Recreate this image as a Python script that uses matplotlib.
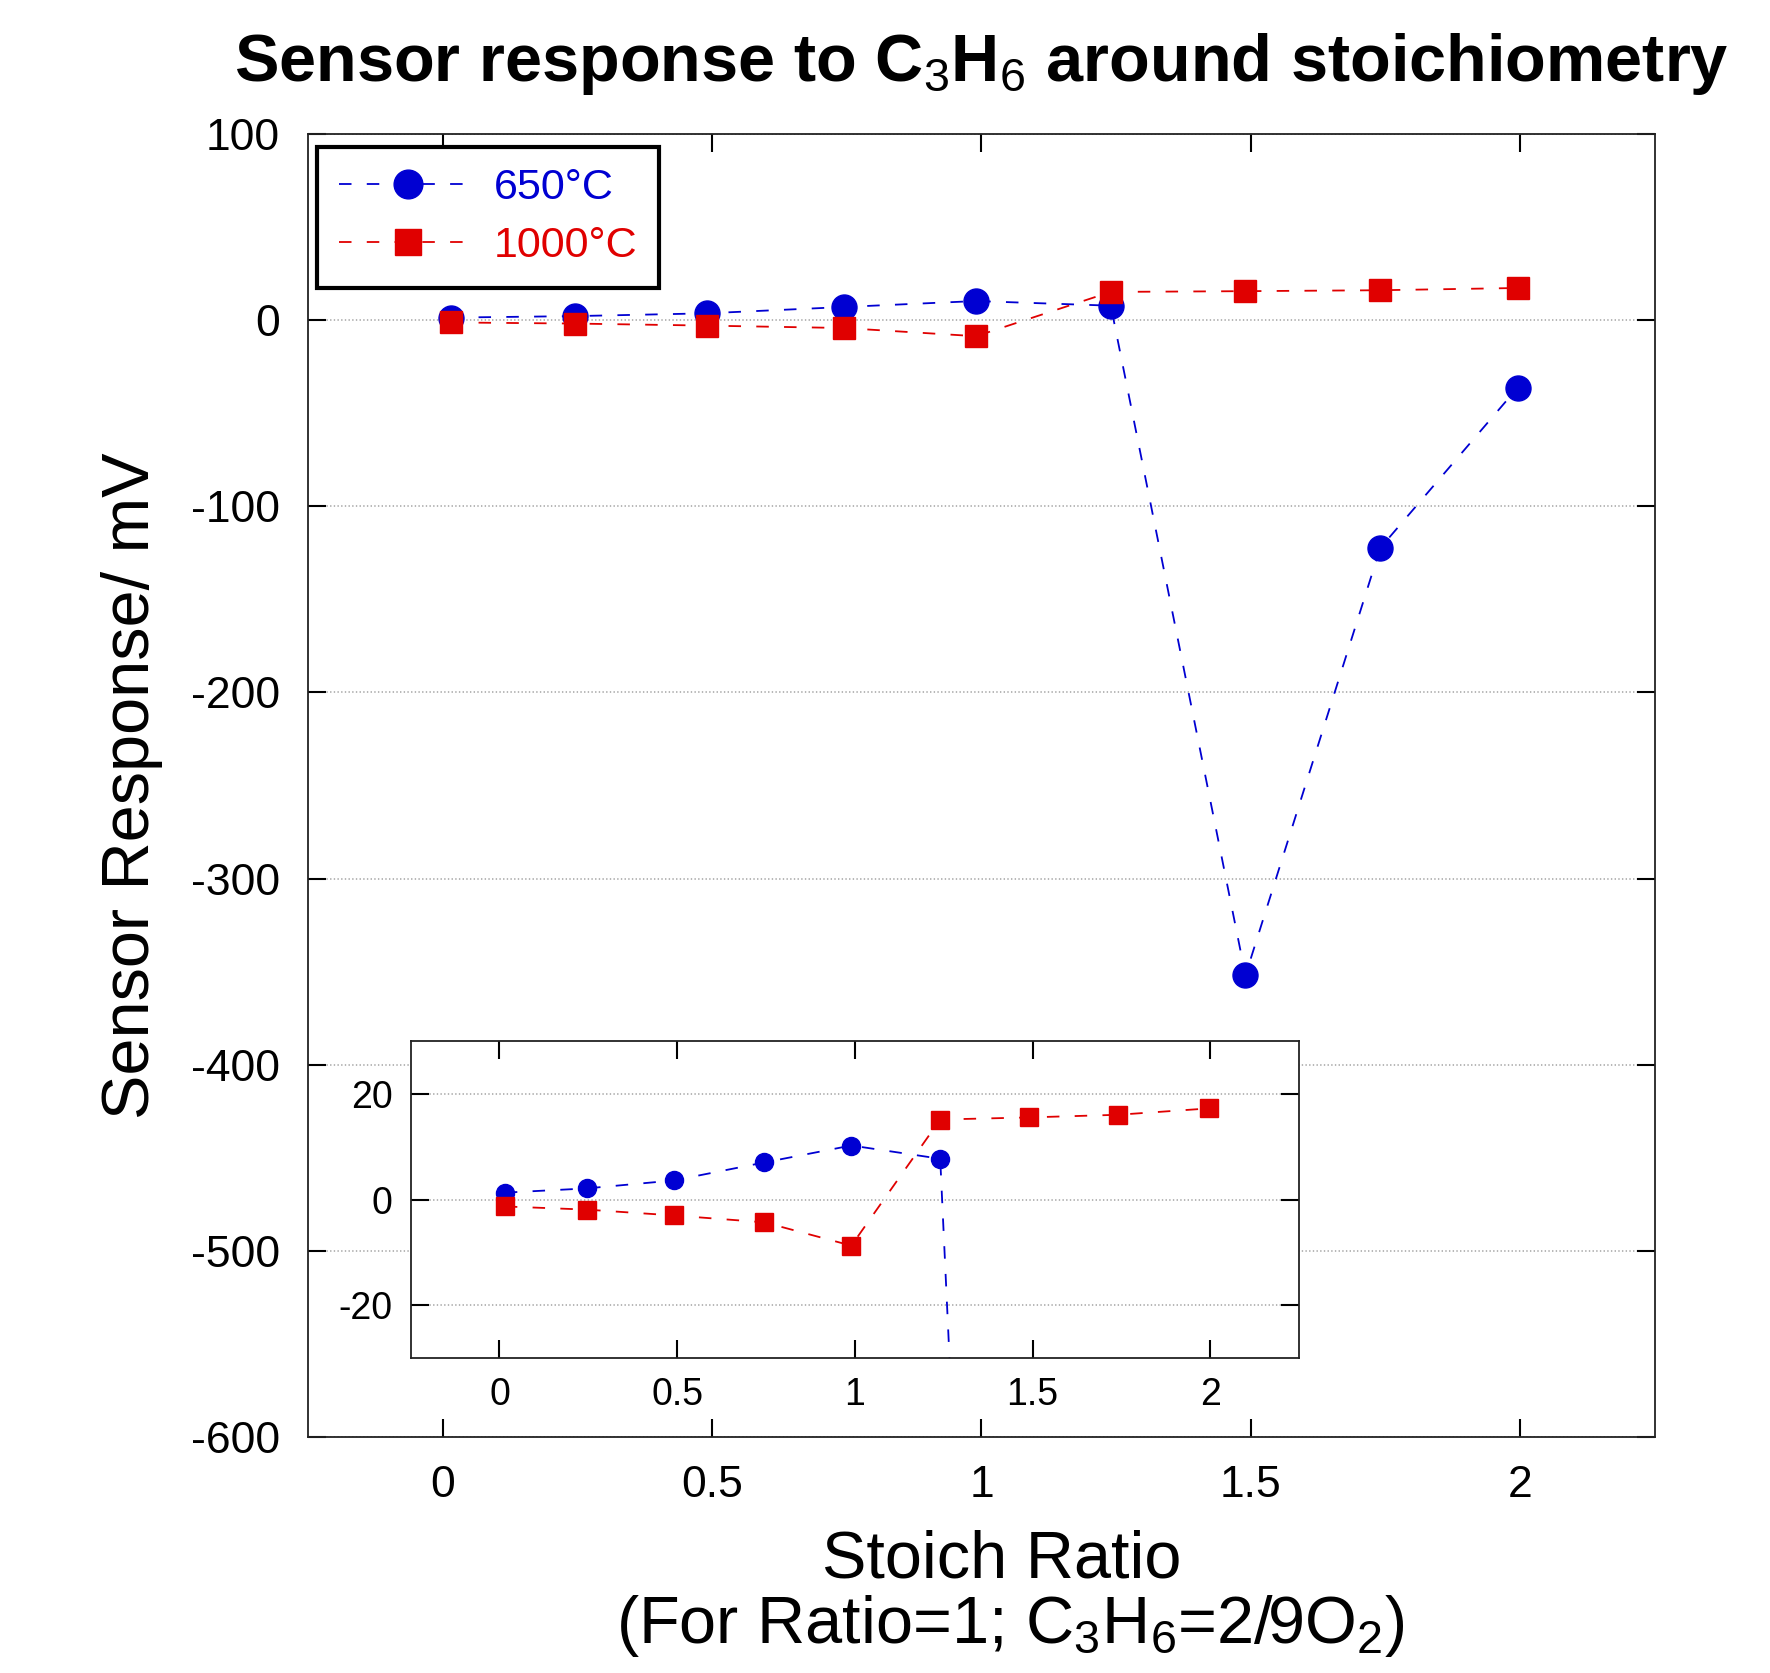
import numpy as np
import matplotlib
matplotlib.use('Agg')
import matplotlib.pyplot as plt

plt.rcParams['font.family'] = ['Liberation Sans', 'DejaVu Sans']
plt.rcParams['mathtext.fontset'] = 'custom'
plt.rcParams['mathtext.rm'] = 'Liberation Sans'
plt.rcParams['mathtext.it'] = 'Liberation Sans'
plt.rcParams['lines.scale_dashes'] = False

# data
ratio = [0.015, 0.245, 0.49, 0.745, 0.99, 1.24, 1.49, 1.74, 1.995]
resp_650 = [1.3, 2.1, 3.6, 7.0, 10.2, 7.7, -352, -122.5, -36.4]
resp_1000 = [-1.3, -1.9, -3.0, -4.3, -8.7, 15.1, 15.5, 16.0, 17.2]
labels = ['650°C', '1000°C']
blue = '#0000d2'
red = '#e00000'

main_xticks = [0, 0.5, 1, 1.5, 2]
main_yticks = [100, 0, -100, -200, -300, -400, -500, -600]
inset_yticks = [-20, 0, 20]

fig = plt.figure(figsize=(17.7, 16.73), dpi=100)
ax = fig.add_axes([0.174, 0.141, 0.761, 0.779])

ax.plot(ratio, resp_650, color=blue, lw=1.3, dashes=(9, 11), marker='o', ms=18,
        mec=blue, mfc=blue, label=labels[0])
ax.plot(ratio, resp_1000, color=red, lw=1.3, dashes=(9, 11), marker='s', ms=16.5,
        mec=red, mfc=red, label=labels[1])

ax.set_xlim(-0.25, 2.25)
ax.set_ylim(-600, 100)
ax.set_xticks(main_xticks, [f'{t:g}' for t in main_xticks])
ax.set_yticks(main_yticks, [f'{t:g}' for t in main_yticks])
ax.tick_params(direction='in', length=13, width=1.5, labelsize=32, pad=20,
               top=True, right=True)
ax.grid(axis='y', color='#aaaaaa', ls=':', lw=1.2)
for s in ax.spines.values():
    s.set_linewidth(1.3)
    s.set_color('#222222')

ax.set_title(r'Sensor response to C$_3$H$_6$ around stoichiometry',
             fontsize=48, fontweight='bold', pad=38)
ax.set_ylabel('Sensor Response/ mV', fontsize=48)
ax.yaxis.set_label_coords(-0.108, 0.5)

fig.text(0.566, 1 - 1578 / 1673, 'Stoich Ratio', fontsize=48, ha='center', va='baseline')
fig.text(0.571, 1 - 1643 / 1673, r'(For Ratio=1; C$_3$H$_6$=2/9O$_2$)', fontsize=48,
         ha='center', va='baseline')

leg = ax.legend(loc='upper left', bbox_to_anchor=(0.007, 0.99), fontsize=31,
                handlelength=3.2, numpoints=1, fancybox=False, framealpha=1,
                edgecolor='black', labelcolor='linecolor', borderpad=0.5,
                labelspacing=0.42, handletextpad=0.4, borderaxespad=0,
                markerscale=1.15)
leg.get_frame().set_linewidth(3)

# inset zoom around zero
ins = fig.add_axes([0.232, 0.188, 0.502, 0.190])
ins.plot(ratio, resp_650, color=blue, lw=1.3, dashes=(9, 11), marker='o', ms=13,
         mec=blue, mfc=blue)
ins.plot(ratio, resp_1000, color=red, lw=1.3, dashes=(9, 11), marker='s', ms=13,
         mec=red, mfc=red)
ins.set_xlim(-0.25, 2.25)
ins.set_ylim(-30, 30)
ins.set_xticks(main_xticks, [f'{t:g}' for t in main_xticks])
ins.set_yticks(inset_yticks, [f'{t:g}' for t in inset_yticks])
ins.tick_params(direction='in', length=13, width=1.5, labelsize=27, pad=13,
                top=True, right=True)
ins.grid(axis='y', color='#aaaaaa', ls=':', lw=1.2)
for s in ins.spines.values():
    s.set_linewidth(1.3)
    s.set_color('#222222')

fig.savefig('out.png', dpi=100)
